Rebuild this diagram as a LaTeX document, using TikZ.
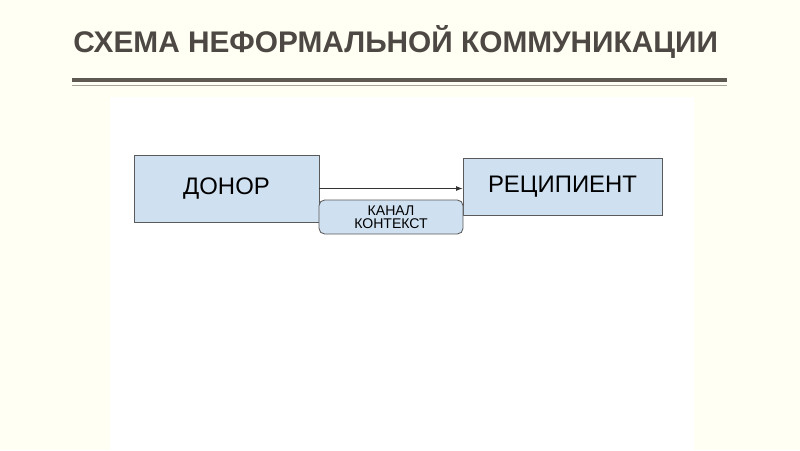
\documentclass[tikz,border=0pt]{standalone}
\usepackage{fontspec}
\setmainfont{Liberation Sans}
\usepackage{tikz}
\usetikzlibrary{arrows.meta,positioning,calc}
\definecolor{pagebg}{HTML}{FFFFF3}
\definecolor{titlecol}{HTML}{4D4843}
\definecolor{rulecol}{HTML}{5E5A52}
\definecolor{thincol}{HTML}{A8A398}
\definecolor{boxfill}{HTML}{CFE0F1}
\definecolor{boxline}{HTML}{5A5A5A}

\begin{document}
\begin{tikzpicture}[x=0.025cm,y=-0.025cm,
  party/.style={draw=boxline,fill=boxfill,line width=0.6pt,inner sep=0pt,
                font=\fontsize{17}{19}\selectfont},
  chan/.style={draw=boxline,fill=boxfill,line width=0.6pt,rounded corners=4pt,
               inner sep=0pt,align=center,font=\fontsize{10}{9.5}\selectfont},
  ar/.style={-{Latex[length=1.6mm,width=1.2mm]},line width=0.5pt,black!80},
]
% page and panel
\fill[pagebg] (0,0) rectangle (800,450);
\fill[white] (110,97) rectangle (694,450);
\useasboundingbox (0,0) rectangle (800,450);

% title and rules
\node[anchor=base west,inner sep=0pt,text=titlecol,
      font=\fontsize{21.2}{24}\selectfont\bfseries] (title) at (73,52)
  {СХЕМА НЕФОРМАЛЬНОЙ КОММУНИКАЦИИ};
\draw[rulecol,line width=2.2pt] (72,80) -- (727,80);
\draw[thincol,line width=0.8pt] (72,85.5) -- (727,85.5);

% boxes
\node[party,minimum width=185*0.025cm,minimum height=67*0.025cm] (donor)
  at (226.5,188.5) {ДОНОР};
\node[party,minimum width=199*0.025cm,minimum height=57*0.025cm] (recip)
  at (562.5,186.5) {РЕЦИПИЕНТ};
\node[chan,minimum width=144*0.025cm,minimum height=34*0.025cm] (channel)
  at (391,217) {КАНАЛ\\КОНТЕКСТ};

\draw[ar] (donor.east) -- (donor.east -| recip.west);
\end{tikzpicture}
\end{document}
